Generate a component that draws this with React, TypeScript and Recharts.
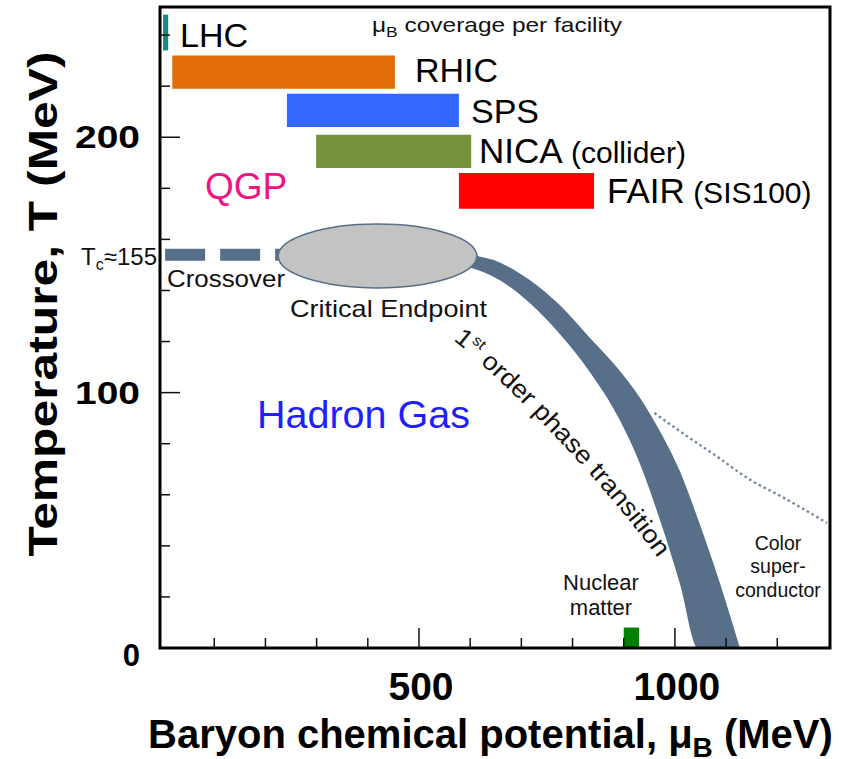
import React from 'react';
import { ComposedChart, XAxis, YAxis, Line, Area, ReferenceArea } from 'recharts';

// axes
const MU_DOMAIN = [-6, 1303];
const T_DOMAIN = [0, 251];
const MU_TICKS = [100, 200, 300, 400, 500, 600, 700, 800, 900, 1000, 1100, 1200];
const MU_LABELS = [500, 1000];
const T_TICKS = [0, 20, 40, 60, 80, 100, 120, 140, 160, 180, 200, 220, 240];
const T_LABELS = [0, 100, 200];

// muB coverage per facility (MeV) and the T-row each bar sits in
const FACILITIES = ['LHC', 'RHIC', 'SPS', 'NICA', 'FAIR'];
const FACILITY_MU_LOW = [0, 18, 242, 299, 578];
const FACILITY_MU_HIGH = [10, 453, 578, 602, 842];
const FACILITY_T_LOW = [234, 219, 204, 188, 172];
const FACILITY_T_HIGH = [248, 232, 217, 201, 186];
const FACILITY_COLORS = ['#138a80', '#e36c0a', '#3366ff', '#77933c', '#ff0000'];

// crossover (dashed) at Tc
const CROSSOVER_MU = [4, 300];
const CROSSOVER_T = [154, 154];

// critical endpoint region
const CEP_MU = [225, 613];
const CEP_T = [141, 166];

// 1st order transition band
const BAND_MU = [580, 600, 658, 717, 775, 834, 893, 932, 971, 1010, 1045, 1088, 1127];
const BAND_T_LOW = [150, 149, 144, 135, 123, 108, 89, 72, 50, 25, 0, 0, 0];
const BAND_T_HIGH = [157, 154.7, 151, 144, 134.3, 121.4, 108.4, 97.9, 84.8, 69.1, 50.5, 25.4, 0];

// colour superconductor boundary (dotted)
const CSC_MU = [960, 1016, 1082, 1146, 1211, 1297];
const CSC_T = [92, 84, 75, 66, 59, 49];

// nuclear matter
const NUCLEAR_MU = [900, 930];
const NUCLEAR_T = [0, 8];

const crossoverData = CROSSOVER_MU.map((mu, i) => ({ mu, T: CROSSOVER_T[i] }));
const bandData = BAND_MU.map((mu, i) => ({ mu, range: [BAND_T_LOW[i], BAND_T_HIGH[i]] }));
const cscData = CSC_MU.map((mu, i) => ({ mu, T: CSC_T[i] }));

const FONT = '"Liberation Sans", Arial, Helvetica, sans-serif';
const PLOT_LEFT = 160;
const PLOT_BOTTOM = 648;
const BAND_COLOR = '#576f88';

const XTick = (props: any) => {
  const { x, payload } = props;
  const v = payload.value;
  const major = MU_LABELS.includes(v);
  return (
    <g>
      <line x1={x} x2={x} y1={PLOT_BOTTOM} y2={PLOT_BOTTOM - (major ? 20 : 10)} stroke="#111" strokeWidth={1.5} />
      {major && (
        <text x={x + 2} y={700} textAnchor="middle" fontFamily={FONT} fontWeight="bold" fontSize={39} fill="#000">
          {v}
        </text>
      )}
    </g>
  );
};

const YTick = (props: any) => {
  const { y, payload } = props;
  const v = payload.value;
  const major = T_LABELS.includes(v);
  return (
    <g>
      {v > 0 && (
        <line x1={PLOT_LEFT} x2={PLOT_LEFT + (major ? 20 : 10)} y1={y} y2={y} stroke="#111" strokeWidth={1.5} />
      )}
      {major && (
        <text x={140} y={y + (v === 0 ? 18 : 11)} textAnchor="end" fontFamily={FONT} fontWeight="bold" fontSize={31}
          textLength={v === 0 ? undefined : 65} lengthAdjust="spacingAndGlyphs" fill="#000">
          {v}
        </text>
      )}
    </g>
  );
};

const Ellipse = (p: any) => {
  const w = Math.abs(p.width);
  const h = Math.abs(p.height);
  const x = Math.min(p.x, p.x + p.width);
  const y = Math.min(p.y, p.y + p.height);
  return <ellipse cx={x + w / 2} cy={y + h / 2} rx={w / 2} ry={h / 2} fill="#c3c3c3" stroke={BAND_COLOR} strokeWidth={1.5} />;
};

export default function App() {
  return (
    <div style={{ position: 'absolute', left: 0, top: 0, width: 852, height: 759, background: '#fff' }}>
      <ComposedChart width={852} height={759} margin={{ top: 7, right: 22, bottom: 0, left: 0 }}>
        <XAxis type="number" dataKey="mu" domain={MU_DOMAIN} ticks={MU_TICKS} interval={0} allowDataOverflow
          height={111} axisLine={false} tickLine={false} tick={XTick} />
        <YAxis type="number" domain={T_DOMAIN} ticks={T_TICKS} interval={0} allowDataOverflow
          width={160} axisLine={false} tickLine={false} tick={YTick} />

        {FACILITIES.map((f, i) => (
          <ReferenceArea key={f} x1={FACILITY_MU_LOW[i]} x2={FACILITY_MU_HIGH[i]} y1={FACILITY_T_LOW[i]} y2={FACILITY_T_HIGH[i]}
            fill={FACILITY_COLORS[i]} fillOpacity={1} stroke="none" />
        ))}

        <Area data={bandData} dataKey="range" type="monotone" fill={BAND_COLOR} fillOpacity={1} stroke="none"
          isAnimationActive={false} dot={false} activeDot={false} />
        <Line data={crossoverData} dataKey="T" type="linear" stroke={BAND_COLOR} strokeWidth={12} strokeDasharray="40 15"
          dot={false} activeDot={false} isAnimationActive={false} />
        <Line data={cscData} dataKey="T" type="monotone" stroke="#6f87a0" strokeWidth={2.4} strokeDasharray="2.5 3"
          dot={false} activeDot={false} isAnimationActive={false} />

        <ReferenceArea x1={CEP_MU[0]} x2={CEP_MU[1]} y1={CEP_T[0]} y2={CEP_T[1]} shape={Ellipse} zIndex={450} />
        <ReferenceArea x1={NUCLEAR_MU[0]} x2={NUCLEAR_MU[1]} y1={NUCLEAR_T[0]} y2={NUCLEAR_T[1]} fill="#008000"
          fillOpacity={1} stroke="none" />
        <ReferenceArea x1={MU_DOMAIN[0]} x2={MU_DOMAIN[1]} y1={T_DOMAIN[0]} y2={T_DOMAIN[1]} fill="none" fillOpacity={0}
          stroke="#000" strokeWidth={3} zIndex={550} />
      </ComposedChart>

      <svg width={852} height={759} style={{ position: 'absolute', left: 0, top: 0, pointerEvents: 'none' }} fontFamily={FONT}>
        <text x={372} y={32} fontSize={21} textLength={250} lengthAdjust="spacingAndGlyphs" fill="#111">
          μ<tspan fontSize={15} dy={5}>B</tspan><tspan dy={-5}> coverage per facility</tspan>
        </text>
        <text x={180} y={47} fontSize={34} fill="#000">LHC</text>
        <text x={415} y={82} fontSize={34} fill="#000">RHIC</text>
        <text x={471} y={123} fontSize={34} fill="#000">SPS</text>
        <text x={479} y={163} fontSize={35} fill="#000">NICA<tspan fontSize={30}> (collider)</tspan></text>
        <text x={607} y={203} fontSize={35} fill="#000">FAIR<tspan fontSize={30}> (SIS100)</tspan></text>
        <text x={205} y={199} fontSize={37} fill="#ee1580">QGP</text>
        <text x={157} y={265} textAnchor="end" fontSize={24} fill="#111">
          T<tspan fontSize={16} dy={5}>c</tspan><tspan dy={-5}>≈155</tspan>
        </text>
        <text x={167} y={287} fontSize={24} textLength={118} lengthAdjust="spacingAndGlyphs" fill="#111">Crossover</text>
        <text x={290} y={317} fontSize={24} textLength={197} lengthAdjust="spacingAndGlyphs" fill="#111">Critical Endpoint</text>
        <path id="fopt" d="M 453 340 C 496 374, 590 466, 655 554" fill="none" stroke="none" />
        <text fontSize={25} fill="#111">
          <textPath href="#fopt" textLength={300} lengthAdjust="spacingAndGlyphs">
            1<tspan fontSize={15} dy={-10}>st</tspan><tspan dy={10}> order phase transition</tspan>
          </textPath>
        </text>
        <text x={257} y={428} fontSize={38} textLength={213} lengthAdjust="spacingAndGlyphs" fill="#1f1fff">Hadron Gas</text>
        <text x={601} y={590} textAnchor="middle" fontSize={22} fill="#111">Nuclear</text>
        <text x={601} y={615} textAnchor="middle" fontSize={22} fill="#111">matter</text>
        <text x={778} y={550} textAnchor="middle" fontSize={19.5} fill="#111">Color</text>
        <text x={778} y={573} textAnchor="middle" fontSize={19.5} fill="#111">super-</text>
        <text x={778} y={597} textAnchor="middle" fontSize={19.5} fill="#111">conductor</text>

        <text x={148} y={748} fontSize={40} fontWeight="bold" fill="#000">
          Baryon chemical potential, μ<tspan fontSize={28} dy={9}>B</tspan><tspan dy={-9}> (MeV)</tspan>
        </text>
        <text transform="translate(57,304) rotate(-90)" textAnchor="middle" fontSize={40} fontWeight="bold"
          textLength={505} lengthAdjust="spacingAndGlyphs" fill="#000">
          Temperature, T (MeV)
        </text>
      </svg>
    </div>
  );
}
